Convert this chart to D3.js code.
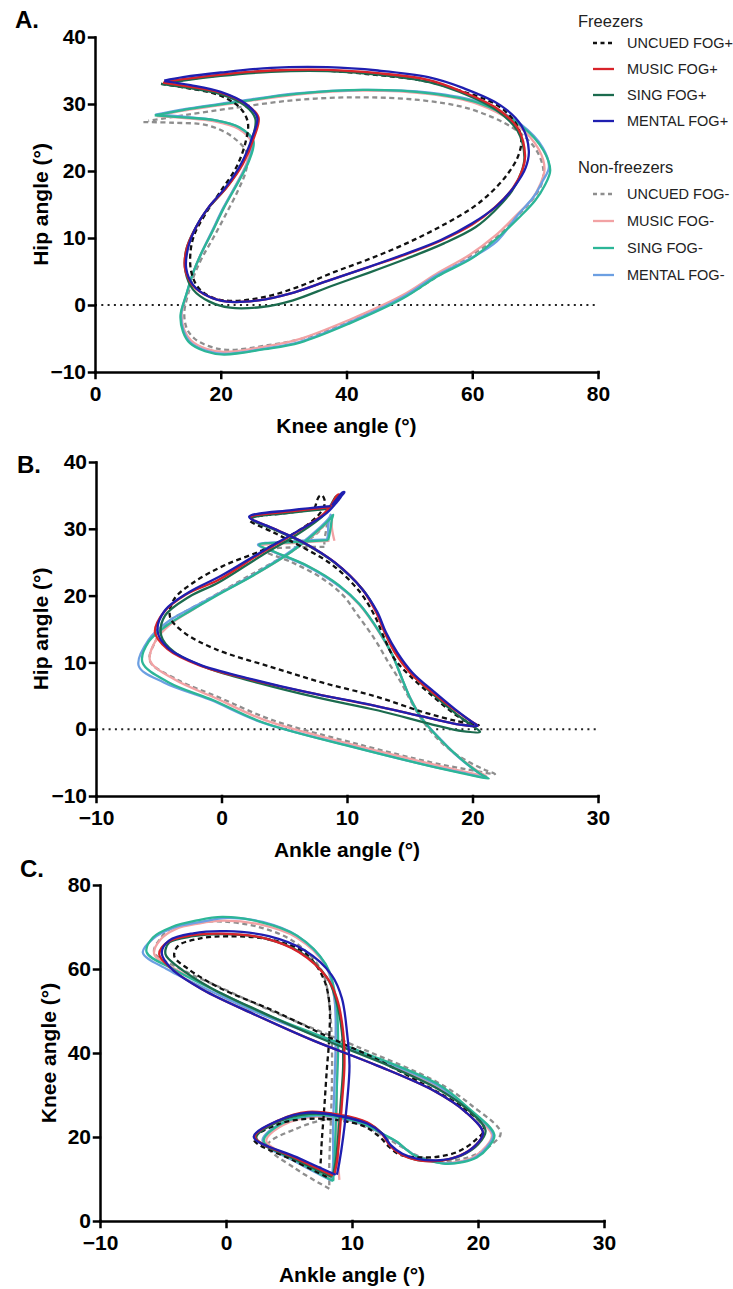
<!DOCTYPE html>
<html>
<head>
<meta charset="utf-8">
<script src="https://cdn.jsdelivr.net/npm/d3@7"></script>
<style>
  body { margin: 0; background: #fff; }
  svg { display: block; font-family: "Liberation Sans", Arial, sans-serif; }
  .axis .domain, .axis .tick line { stroke: #000; stroke-width: 2.5; stroke-linecap: square; }
  .axis .tick text { font-size: 21px; font-weight: bold; fill: #000; }
  .title { font-size: 21px; font-weight: bold; fill: #000; }
  .plabel { font-size: 24px; font-weight: bold; fill: #000; }
  .legend text { font-size: 14.5px; fill: #222; }
  .legend .head { font-size: 16.5px; }
</style>
</head>
<body>
<div id="chart"></div>
<script>

// conditions (legend order)
const groups = ["Freezers", "Non-freezers"];
const conditions = ["UNCUED FOG+", "MUSIC FOG+", "SING FOG+", "MENTAL FOG+",
                    "UNCUED FOG-", "MUSIC FOG-", "SING FOG-", "MENTAL FOG-"];

// joint angles over one gait cycle (heel strike -> heel strike), degrees
const kneeUncuedPos  = [10.5,14.5,19.5,23,24.3,24,22.5,20,17.5,15.8,15.2,15.3,16.5,19,22, 27,32,38,44,50,55.5,60,63,65.5,67.2,67.8,67,64,58,52,44,36,27,19,13.5,11];
const hipUncuedPos   = [33,32.4,31.4,29.5,27.3,24.5,20.6,17,13.5,10.5,8,5,2.5,1,0.6, 1.2,2.6,4.9,7,9.4,12,14.5,16.8,19.4,22,24.5,27,29.8,32,33.5,34.4,35,34.9,34.2,33.5,33];
const ankleUncuedPos = [8,5.3,2.2,4.1,6.4,8.9,11,12.2,13,13.8,15,16.8,18.4,19.7,20.5, 18.8,16,12.3,8,3.8,-0.5,-3,-4.1,-3.8,-2.2,0.2,3.5,6.2,7.7,8.2,8.2,8.0,7.8,7.6,7.5,7.4];

const kneeMusicPos  = [10.8,15,20,24,26,25.3,23.5,21,18,16,14.6,14.3,15.5,18,21, 26,31,37,43,49,55,60,63.5,66.5,68,68.4,67.3,64,58,53,45,37,28,20,14,11];
const hipMusicPos   = [33.2,32.6,31.7,30,28,25,21,17.6,14.5,11.5,8.5,5.5,3,1.3,0.5, 0.7,1.7,3.6,5.5,7.4,9.6,12,14.5,17.5,20.2,22.3,26.3,29.3,32,33.6,34.6,35.1,35.0,34.4,33.7,33.3];
const ankleMusicPos = [8.5,5.5,2.3,4.2,6.5,9,11.2,12.3,13,13.8,15,16.8,18.5,19.8,20.4, 19,16.5,12,6.9,2.4,-1.8,-4.3,-5.3,-4.6,-2.8,-0.3,3.1,5.8,8,8.8,9.3,9.4,9.2,9.0,8.8,8.6];

const kneeSingPos  = [10.5,14.8,19.8,23.8,25.5,25,23.2,20.8,17.8,15.8,14.5,14.4,15.6,18.2,21.5, 26.5,31.5,37.5,43.5,49.5,55.5,60.5,63.5,66.3,67.8,68.3,67.2,64,58,53,45,37,28,20,14,11];
const hipSingPos   = [33,32.4,31.5,29.8,27.8,24.8,20.8,17.4,14.2,11.2,8.2,5.0,2.3,0.5,-0.4, -0.3,0.7,2.8,4.8,6.9,9.2,11.6,14,17,19.8,22,26,29,31.8,33.3,34.4,34.9,34.8,34.2,33.5,33];
const ankleSingPos = [8.4,5.4,2.4,4.3,6.6,9.1,11.3,12.4,13.1,14,15.2,17,18.7,20,20.6, 19.2,16.8,12.5,7.5,3,-1.2,-3.8,-4.8,-4.5,-2.6,-0.2,3.2,5.9,8,8.7,9.2,9.3,9.1,8.9,8.7,8.5];

const kneeMentalPos  = [11,15.2,20,24,25.8,25,23.2,20.8,18,16,14.8,14.5,15.6,18,21, 26,31,37,43,49,55,60,63.8,66.8,68.5,69,67.8,64.5,58.5,53,45,37,28,20,14,11];
const hipMentalPos   = [33.4,32.8,31.8,30,28,25,21,17.6,14.5,11.5,8.5,5.5,3,1.3,0.5, 0.7,1.7,3.6,5.5,7.5,9.7,12.2,14.7,17.8,20.5,23,26.8,29.8,32.4,34,35,35.5,35.4,34.7,34,33.5];
const ankleMentalPos = [8.7,5.6,2.2,4.2,6.5,9,11.2,12.4,13.1,14,15.2,17,18.6,19.8,20.4, 19,16.5,12,6.9,2.4,-1.8,-4.3,-5.1,-4.5,-2.6,0,3.4,6.2,8.4,9.2,9.6,9.8,9.6,9.3,9.0,8.8];

const kneeUncuedNeg  = [7.7,12.5,18,22,24.2,24,22.8,20.8,18.8,17,15.8,14.8,14.2,14.6,15.8,18,21, 27.5,33,41,49.5,55,60,64,67.3,69.8,71,71.3,70,66.5,59.5,51.5,42,32,22,14,8.5];
const hipUncuedNeg   = [27.3,27.2,26.8,25,22.6,20,17.2,13.5,10,7,4.5,1.6,-1.2,-3.5,-5,-6.1,-6.7, -6,-5,-2.2,1.4,4.6,7.5,10.2,13.4,16,18,20.3,23.4,26.4,29.3,30.6,31,30.6,29.4,28.3,27.5];
const ankleUncuedNeg = [8.2,5.5,3.3,5.6,8,9.7,10.8,12.2,13.3,14.3,15,15.9,17.1,18.5,19.8,21,21.8, 19.5,16.8,10.8,4,0,-3.6,-5.7,-5.2,-4.3,-2.5,-0.3,2.6,5.4,7.6,8.2,8.4,8.4,8.3,8.2,8.2];

const kneeMusicNeg  = [9.8,14.2,19,22.8,24.8,24.2,22.8,20.4,18.7,16.8,15.6,14.6,13.8,14.2,15.3,17.6,20.5, 27,32.5,40.5,48.8,54.2,59.6,63.6,67,69.5,70.8,71.5,70.6,67.5,60.8,53,42.5,32,22,14,9.8];
const hipMusicNeg   = [28.2,27.9,27.4,26.3,24.4,21.4,18.6,14.4,11.1,7.5,4.8,1.6,-1.3,-3.7,-5.3,-6.5,-7.0, -6.2,-5.1,-2.2,1.4,4.6,7.5,10.3,13.4,15.8,18,20.3,23.2,26.6,30,31.5,32,31.4,30.1,29,28.2];
const ankleMusicNeg = [8.6,5.9,3.2,4.5,6.9,9.4,11,12.6,13.6,14.4,15,16,17.3,18.6,19.7,20.6,21.1, 19,16.5,10.2,3.4,-0.4,-3.8,-5.7,-5.2,-4,-2.2,-0.2,2.7,5.6,7.9,8.6,8.8,8.8,8.8,8.9,9.0];

const kneeSingNeg  = [9.5,14,19,23,25.2,24.5,23,20.5,18.8,16.8,15.6,14.5,13.6,14,15.1,17.5,20.5, 27,32.6,40.6,49,54.5,60,64,67.5,70,71.5,72.4,71.3,68,61.2,53.3,42.7,32,22,14,9.5];
const hipSingNeg   = [28.3,28,27.6,26.5,24.5,21.5,18.7,14.5,11.2,7.5,4.8,1.5,-1.5,-4,-5.7,-6.9,-7.4, -6.6,-5.6,-2.7,1.0,4.3,7.0,10.0,13.1,15.6,17.8,20.1,23.1,26.6,30.1,31.6,32.1,31.5,30.2,29.1,28.3];
const ankleSingNeg = [8.5,5.8,3.0,4.3,6.8,9.4,11,12.6,13.6,14.4,15,16,17.4,18.8,19.9,20.8,21.3, 19.2,16.8,10.5,3.3,-0.6,-4.2,-6.3,-5.8,-4.3,-2.4,-0.3,2.6,5.6,7.9,8.7,8.9,8.8,8.7,8.6,8.5];

const kneeMentalNeg  = [9.6,14,19,23,25,24.4,22.9,20.4,18.7,16.8,15.6,14.5,13.7,14.1,15.2,17.6,20.6, 27,32.6,40.5,48.8,54.3,59.8,63.9,67.2,69.8,71.2,72.2,71.2,67.8,61,53.2,42.6,32,22,14,9.6];
const hipMentalNeg   = [28.4,28.1,27.6,26.5,24.5,21.5,18.7,14.5,11.2,7.5,4.8,1.5,-1.4,-3.9,-5.6,-6.8,-7.3, -6.5,-5.5,-2.6,1.1,4.4,7.0,9.5,13.4,16.2,18.5,20.6,23.5,26.9,30.3,31.7,32.1,31.6,30.3,29.2,28.4];
const ankleMentalNeg = [8.4,5.6,2.9,4.2,6.7,9.3,11,12.6,13.6,14.4,15,16,17.4,18.7,19.8,20.7,21.2, 19.1,16.6,10.4,3.1,-0.9,-4.6,-6.6,-5.8,-4.2,-2,0.1,2.9,5.7,7.9,8.6,8.7,8.6,8.5,8.5,8.4];

// tick labels
const kneeTicksA = [0, 20, 40, 60, 80];
const hipTicks = [-10, 0, 10, 20, 30, 40];
const ankleTicks = [-10, 0, 10, 20, 30];
const kneeTicksC = [0, 20, 40, 60, 80];

// series table built from the arrays
const joints = [
  [kneeUncuedPos, hipUncuedPos, ankleUncuedPos],
  [kneeMusicPos, hipMusicPos, ankleMusicPos],
  [kneeSingPos, hipSingPos, ankleSingPos],
  [kneeMentalPos, hipMentalPos, ankleMentalPos],
  [kneeUncuedNeg, hipUncuedNeg, ankleUncuedNeg],
  [kneeMusicNeg, hipMusicNeg, ankleMusicNeg],
  [kneeSingNeg, hipSingNeg, ankleSingNeg],
  [kneeMentalNeg, hipMentalNeg, ankleMentalNeg]
];
const series = conditions.map((name, i) => ({
  name,
  points: joints[i][0].map((k, j) => ({ knee: k, hip: joints[i][1][j], ankle: joints[i][2][j] }))
}));

const style = {
  "UNCUED FOG+": { color: "#111111", dash: "5,3.5" },
  "MUSIC FOG+":  { color: "#d8232a", dash: null },
  "SING FOG+":   { color: "#1b6b4e", dash: null },
  "MENTAL FOG+": { color: "#1f1fb0", dash: null },
  "UNCUED FOG-": { color: "#8e8e8e", dash: "5,3.5" },
  "MUSIC FOG-":  { color: "#f2a2a4", dash: null },
  "SING FOG-":   { color: "#2cb697", dash: null },
  "MENTAL FOG-": { color: "#6c9fe2", dash: null }
};
const drawOrder = ["UNCUED FOG-", "MUSIC FOG-", "MENTAL FOG-", "SING FOG-",
                   "UNCUED FOG+", "SING FOG+", "MUSIC FOG+", "MENTAL FOG+"];

const W = 733, H = 1289;
const svg = d3.select("#chart").append("svg").attr("width", W).attr("height", H);

const panels = [
  { label: "A.", lx: 15, ly: 28, xKey: "knee", yKey: "hip",
    xDomain: [0, 80], yDomain: [-10, 40], xRange: [95, 598], yRange: [372, 37],
    xTicks: kneeTicksA, yTicks: hipTicks, xTitle: "Knee angle (°)", yTitle: "Hip angle (°)",
    yTitleX: 48, zero: true },
  { label: "B.", lx: 17, ly: 473, xKey: "ankle", yKey: "hip",
    xDomain: [-10, 30], yDomain: [-10, 40], xRange: [96, 598], yRange: [796, 462],
    xTicks: ankleTicks, yTicks: hipTicks, xTitle: "Ankle angle (°)", yTitle: "Hip angle (°)",
    yTitleX: 48, zero: true },
  { label: "C.", lx: 20, ly: 877, xKey: "ankle", yKey: "knee",
    xDomain: [-10, 30], yDomain: [0, 80], xRange: [100, 604], yRange: [1221, 885],
    xTicks: ankleTicks, yTicks: kneeTicksC, xTitle: "Ankle angle (°)", yTitle: "Knee angle (°)",
    yTitleX: 56, zero: false }
];

panels.forEach(p => {
  const x = d3.scaleLinear().domain(p.xDomain).range(p.xRange);
  const y = d3.scaleLinear().domain(p.yDomain).range(p.yRange);
  const g = svg.append("g");

  if (p.zero) {
    g.append("line")
      .attr("x1", p.xRange[0]).attr("x2", p.xRange[1])
      .attr("y1", y(0)).attr("y2", y(0))
      .attr("stroke", "#222").attr("stroke-width", 2)
      .attr("stroke-dasharray", "2,4.3");
  }

  const line = d3.line()
    .x(d => x(d[p.xKey]))
    .y(d => y(d[p.yKey]))
    .curve(d3.curveCatmullRom.alpha(0.5));

  drawOrder.forEach(name => {
    const s = series.find(d => d.name === name);
    g.append("path")
      .datum(s.points)
      .attr("fill", "none")
      .attr("stroke", style[name].color)
      .attr("stroke-width", 2.3)
      .attr("stroke-dasharray", style[name].dash)
      .attr("d", line);
  });

  g.append("g")
    .attr("class", "axis")
    .attr("transform", `translate(0,${p.yRange[0]})`)
    .call(d3.axisBottom(x).tickValues(p.xTicks).tickSize(6).tickSizeOuter(0).tickPadding(8));

  g.append("g")
    .attr("class", "axis")
    .attr("transform", `translate(${p.xRange[0]},0)`)
    .call(d3.axisLeft(y).tickValues(p.yTicks).tickSize(6).tickSizeOuter(0).tickPadding(3));

  g.append("text")
    .attr("class", "title")
    .attr("x", (p.xRange[0] + p.xRange[1]) / 2)
    .attr("y", p.yRange[0] + 61)
    .attr("text-anchor", "middle")
    .text(p.xTitle);

  g.append("text")
    .attr("class", "title")
    .attr("transform", `translate(${p.yTitleX},${(p.yRange[0] + p.yRange[1]) / 2}) rotate(-90)`)
    .attr("text-anchor", "middle")
    .text(p.yTitle);

  g.append("text")
    .attr("class", "plabel")
    .attr("x", p.lx).attr("y", p.ly)
    .text(p.label);
});

// legend
const legend = svg.append("g").attr("class", "legend");
const heads = [{ y: 27, step: 26, first: 43 }, { y: 173, step: 27, first: 194 }];
groups.forEach((grp, gi) => {
  legend.append("text").attr("class", "head").attr("x", 578).attr("y", heads[gi].y).text(grp);
  conditions.slice(gi * 4, gi * 4 + 4).forEach((name, i) => {
    const cy = heads[gi].first + i * heads[gi].step;
    legend.append("line")
      .attr("x1", 593).attr("x2", 614).attr("y1", cy).attr("y2", cy)
      .attr("stroke", style[name].color).attr("stroke-width", 2.3)
      .attr("stroke-dasharray", style[name].dash ? "4,3.5" : null);
    legend.append("text")
      .attr("x", 627).attr("y", cy)
      .attr("dominant-baseline", "central")
      .text(name);
  });
});
</script>
</body>
</html>
